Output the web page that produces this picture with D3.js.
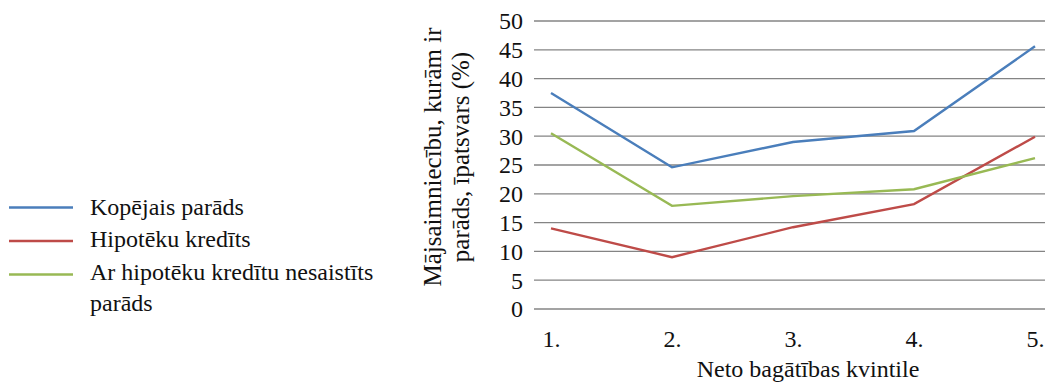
<!DOCTYPE html>
<html><head><meta charset="utf-8">
<script src="https://cdn.jsdelivr.net/npm/d3@7"></script>
<style>body{margin:0;background:#fff}svg{display:block}</style>
</head><body><svg id="c" width="1045" height="382"></svg>
<script>
const categories = ["1.", "2.", "3.", "4.", "5."];
const seriesNames = ["Kopējais parāds", "Hipotēku kredīts", "Ar hipotēku kredītu nesaistīts parāds"];
const kopejais = [37.5, 24.6, 29.0, 30.9, 45.6];
const hipoteku = [14.0, 9.0, 14.2, 18.2, 29.9];
const nesaistits = [30.5, 17.9, 19.6, 20.8, 26.2];
const yTicks = [0, 5, 10, 15, 20, 25, 30, 35, 40, 45, 50];
const colors = ["#4A7EBB", "#BE4B48", "#98B954"];
const xTitle = "Neto bagātības kvintile";
const yTitle = ["Mājsaimniecību, kurām ir", "parāds, īpatsvars (%)"];

const FONT = "'Liberation Serif', 'Times New Roman', Times, serif";
const svg = d3.select("#c");
const x = d3.scalePoint().domain(categories).range([551, 1035]);
const y = d3.scaleLinear().domain([0, 50]).range([309, 21]);

svg.append("g").selectAll("line").data(yTicks).join("line")
  .attr("x1", 534).attr("x2", 1045)
  .attr("y1", d => y(d)).attr("y2", d => y(d))
  .attr("stroke", "#848484").attr("stroke-width", 1.3);

const yAxis = d3.axisLeft(y).tickValues(yTicks).tickSize(0).tickPadding(0);
const ga = svg.append("g").attr("transform", "translate(523,0)").call(yAxis)
  .attr("font-family", FONT).attr("font-size", 24);
ga.select(".domain").remove();
ga.selectAll("text").attr("dy", "0.33em").attr("fill", "#111");

const xAxis = d3.axisBottom(x).tickSize(0).tickPadding(0);
const gx = svg.append("g").attr("transform", "translate(0,347)").call(xAxis)
  .attr("font-family", FONT).attr("font-size", 24);
gx.select(".domain").remove();
gx.selectAll("text").attr("dy", "0").attr("fill", "#111");

const data = [kopejais, hipoteku, nesaistits];
const line = d3.line().x((d, i) => x(categories[i])).y(d => y(d));
svg.append("g").selectAll("path").data(data).join("path")
  .attr("d", line).attr("fill", "none")
  .attr("stroke", (d, i) => colors[i]).attr("stroke-width", 2.4);

const tg = svg.append("g").attr("font-family", FONT).attr("fill", "#111");
tg.append("text").attr("x", 808).attr("y", 376.5).attr("text-anchor", "middle")
  .attr("font-size", 24).text(xTitle);
const yt = tg.append("text").attr("transform", "translate(0,157) rotate(-90)")
  .attr("text-anchor", "middle").attr("font-size", 25);
yt.append("tspan").attr("x", 0).attr("y", 441).text(yTitle[0]);
yt.append("tspan").attr("x", 0).attr("y", 469).text(yTitle[1]);

const rows = [207.5, 241, 274.5];
rows.forEach((ry, i) => {
  tg.append("line").attr("x1", 9).attr("x2", 73).attr("y1", ry).attr("y2", ry)
    .attr("stroke", colors[i]).attr("stroke-width", 2.6);
});
const lg = tg.append("g").attr("font-size", 24);
lg.append("text").attr("x", 90).attr("y", 215).text(seriesNames[0]);
lg.append("text").attr("x", 90).attr("y", 247).text(seriesNames[1]);
const t3 = lg.append("text");
t3.append("tspan").attr("x", 90).attr("y", 280).text("Ar hipotēku kredītu nesaistīts");
t3.append("tspan").attr("x", 90).attr("y", 311).text("parāds");
</script></body></html>
